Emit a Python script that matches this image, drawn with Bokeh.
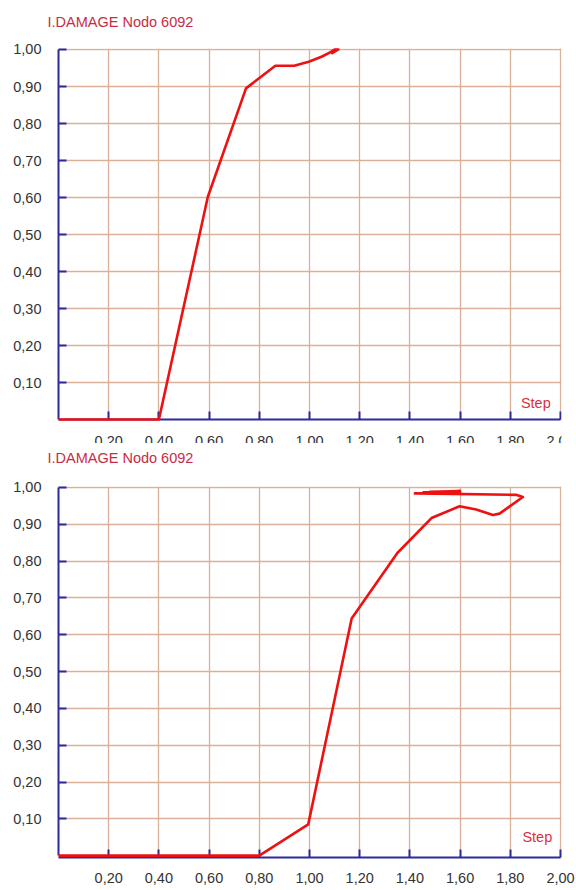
from bokeh.plotting import figure
from bokeh.models import FixedTicker, Range1d, Label, Title
from bokeh.layouts import column
from bokeh.embed import file_html
from bokeh.resources import INLINE

# ---------------- data ----------------
title_text = "I.DAMAGE Nodo 6092"
axis_name = "Step"

x_ticks = [0.2, 0.4, 0.6, 0.8, 1.0, 1.2, 1.4, 1.6, 1.8, 2.0]
x_tick_labels = ["0,20", "0,40", "0,60", "0,80", "1,00", "1,20", "1,40", "1,60", "1,80", "2,00"]
y_ticks = [0.1, 0.2, 0.3, 0.4, 0.5, 0.6, 0.7, 0.8, 0.9, 1.0]
y_tick_labels = ["0,10", "0,20", "0,30", "0,40", "0,50", "0,60", "0,70", "0,80", "0,90", "1,00"]

# top chart
step1 = [0.0, 0.40, 0.595, 0.747, 0.864, 0.939, 0.997, 1.05, 1.082, 1.10, 1.115, 1.09, 1.105]
damage1 = [0.0, 0.0, 0.602, 0.895, 0.956, 0.956, 0.967, 0.981, 0.992, 1.0, 1.0, 0.99, 0.998]

# bottom chart
step2 = [0.0, 0.80, 0.995, 1.168, 1.35, 1.486, 1.598, 1.664, 1.731, 1.757, 1.85, 1.823,
         1.42, 1.60, 1.48, 1.60, 1.45]
damage2 = [0.0, 0.0, 0.085, 0.644, 0.822, 0.917, 0.949, 0.940, 0.925, 0.929, 0.974, 0.980,
           0.984, 0.990, 0.988, 0.986, 0.987]

# ---------------- style ----------------
FONT = "Liberation Sans"
FS = "14.5px"
TXT = "#333333"
TITLE_C = "#c82c44"
STEP_C = "#d83040"
AXIS_C = "#2b2b9b"
GRID_C = "#dbb098"
LINE_C = "#ee1111"


def make_fig(width, height, mleft, mright, mtop, mbottom, xs, ys, px_x, px_y,
             y_start, fixed_axis, xlabel_standoff, step_pos, title_gap):
    p = figure(width=width, height=height, output_backend="svg", toolbar_location=None,
               title=None,
               x_range=Range1d(0, 2.0 + 1.0 / px_x), y_range=Range1d(y_start, 1.0 + 1.0 / px_y),
               min_border_left=mleft, min_border_right=mright,
               min_border_top=mtop, min_border_bottom=mbottom)
    p.background_fill_color = "white"
    p.border_fill_color = "white"
    p.outline_line_color = None

    # spacer between frame and title, then the title itself
    p.add_layout(Title(text=" ", text_font_size="1px", standoff=title_gap), "above")
    p.add_layout(Title(text=title_text, text_font=FONT, text_font_size=FS,
                       text_font_style="normal", text_color=TITLE_C, align="left",
                       vertical_align="bottom", offset=-11, standoff=0), "above")

    for ax in (p.xaxis[0], p.yaxis[0]):
        ax.axis_line_color = AXIS_C
        ax.axis_line_width = 2
        ax.major_tick_line_color = AXIS_C
        ax.major_tick_line_width = 2
        ax.major_tick_in = 8
        ax.major_tick_out = 0
        ax.minor_tick_line_color = None
        ax.major_label_text_font = FONT
        ax.major_label_text_font_size = FS
        ax.major_label_text_color = TXT

    p.xaxis.ticker = FixedTicker(ticks=x_ticks)
    p.yaxis.ticker = FixedTicker(ticks=y_ticks)
    p.xaxis.major_label_overrides = dict(zip(x_ticks, x_tick_labels))
    p.yaxis.major_label_overrides = dict(zip(y_ticks, y_tick_labels))
    p.yaxis.major_label_standoff = 17
    p.xaxis.major_label_standoff = xlabel_standoff
    p.xaxis.bounds = (0, 2.0)
    p.yaxis.bounds = (0, 1.0)
    if fixed_axis:
        p.xaxis.fixed_location = 0

    p.xgrid.ticker = FixedTicker(ticks=x_ticks)
    p.ygrid.ticker = FixedTicker(ticks=y_ticks)
    for g in (p.xgrid[0], p.ygrid[0]):
        g.grid_line_color = GRID_C
        g.grid_line_width = 1.3

    if fixed_axis:
        # blank area under the zero line (grid does not continue below the axis)
        p.quad(left=0, right=2.0 + 1.0 / px_x, bottom=y_start, top=0,
               fill_color="white", line_color=None)

    r = p.line(xs, ys, line_color=LINE_C, line_width=2.6, line_join="round")
    r.level = "overlay"

    p.add_layout(Label(x=step_pos[0], y=step_pos[1], text=axis_name, text_align="right",
                       text_baseline="middle", text_font=FONT, text_font_size=FS,
                       text_color=STEP_C))
    return p


# top figure: its x labels are cut off at the bottom edge
p1 = make_fig(576, 443, 58, 6, 48, 0, step1, damage1, 256.0, 371.0,
              -24.0 / 371.0, True, 16, (1.961, 0.046), 16)

# bottom figure
p2 = make_fig(576, 446, 58, 15, 43, 32, step2, damage2, 251.5, 371.5,
              -0.005, False, 15, (1.967, 0.050), 18)

layout = column(p1, p2, spacing=0)
open("out.html", "w").write(file_html(layout, INLINE))
